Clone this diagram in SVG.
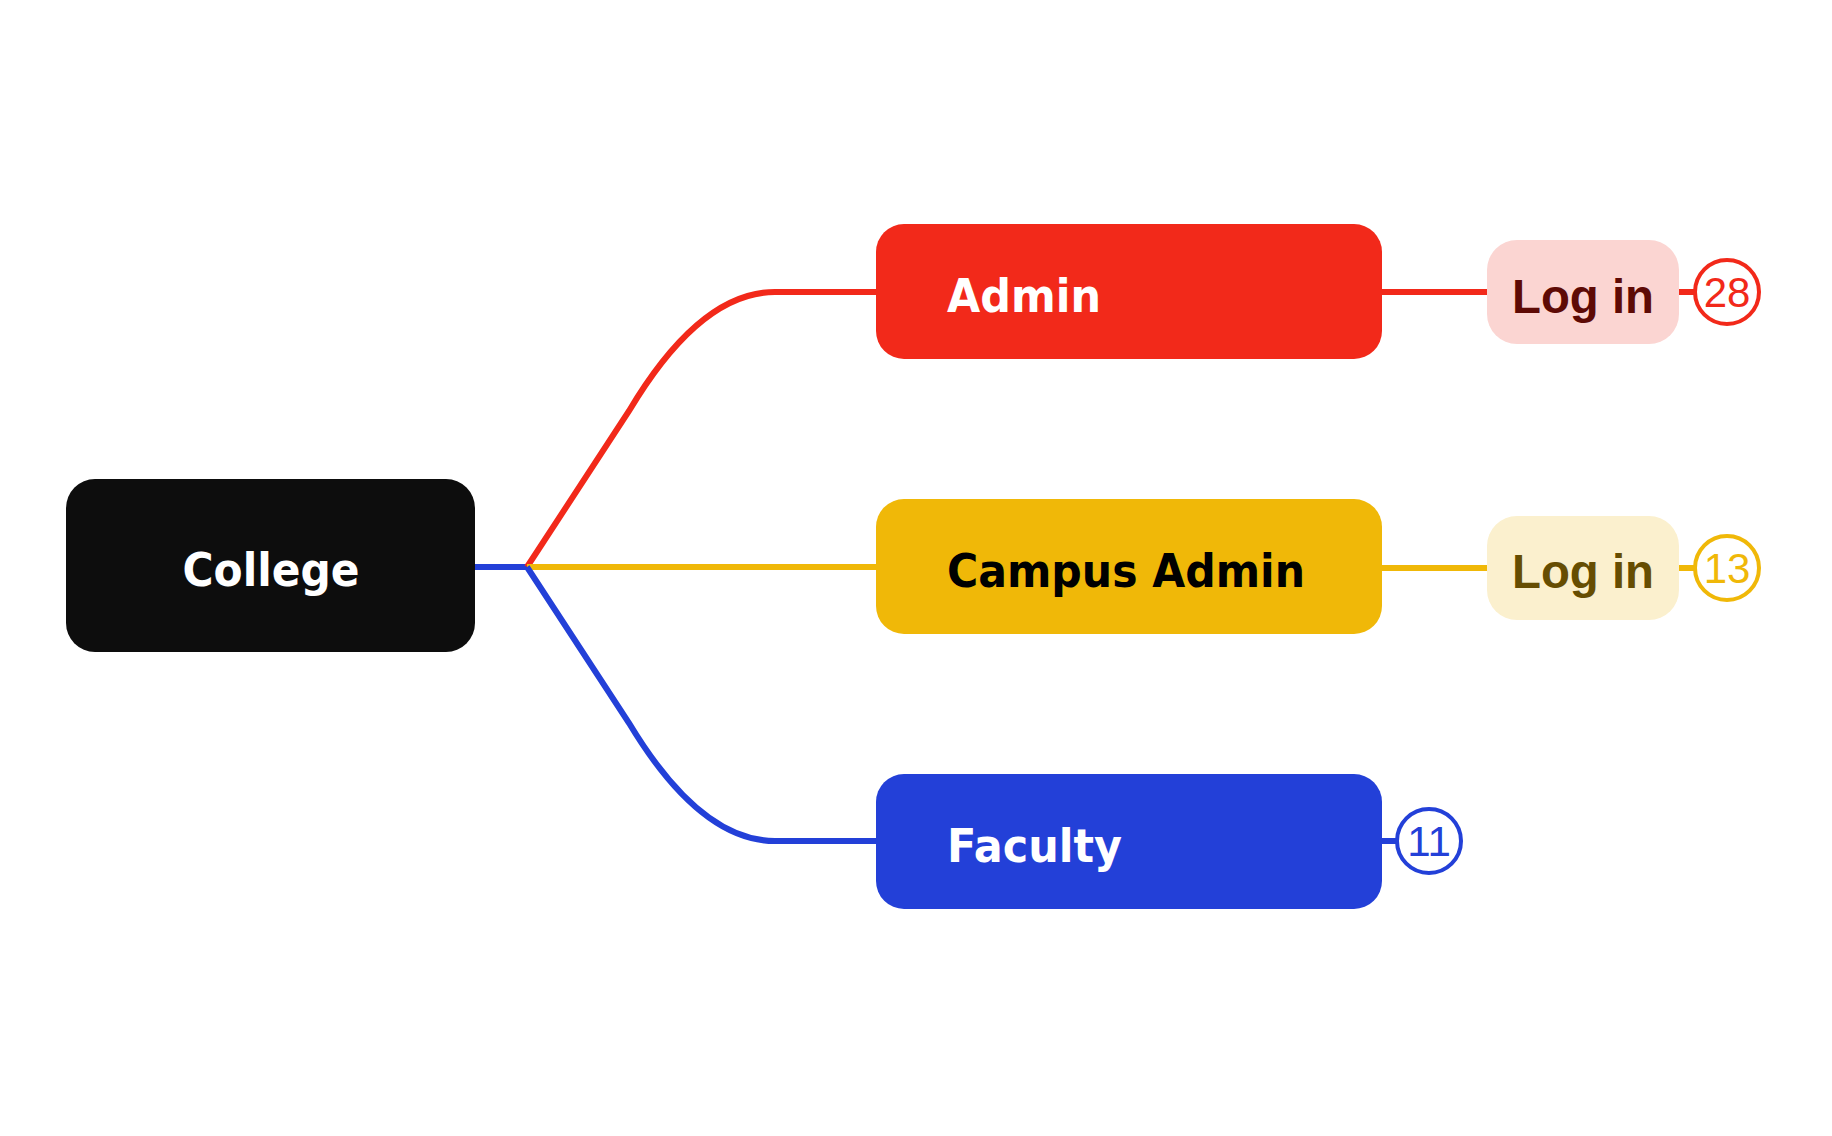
<svg xmlns="http://www.w3.org/2000/svg" width="1832" height="1136" viewBox="0 0 1832 1136">
<style>
.t{font-family:"DejaVu Sans",Verdana,sans-serif;font-weight:bold;font-size:46px}
.l{font-family:"Liberation Sans",Arial,sans-serif;font-weight:bold;font-size:48px}
.n{font-family:"Liberation Sans",Arial,sans-serif;font-size:42px;text-anchor:middle}
.c{fill:#fff;stroke-width:4}
</style>
<rect width="1832" height="1136" fill="#fff"/>
<g id="connectors" fill="none" stroke-width="6">
<path d="M475 567 H527" stroke="#2340D8"/>
<path d="M527 567 L629 411 Q700 292 775 292 H876" stroke="#F2291A"/>
<path d="M527 567 H876" stroke="#F0B808"/>
<path d="M527 567 L629 723 Q700 841 775 841 H876" stroke="#2340D8"/>
<path d="M1382 292 H1490 M1679 292 H1695" stroke="#F2291A"/>
<path d="M1382 568 H1490 M1679 568 H1695" stroke="#F0B808"/>
<path d="M1382 841 H1397" stroke="#2340D8"/>
</g>
<g id="college"><rect x="66" y="479" width="409" height="173" rx="29" fill="#0D0D0D"/><text class="t" x="271" y="586" text-anchor="middle" fill="#fff" textLength="177" lengthAdjust="spacingAndGlyphs">College</text></g>
<g id="admin"><rect x="876" y="224" width="506" height="135" rx="28" fill="#F2291A"/><text class="t" x="947" y="312" fill="#fff" textLength="154" lengthAdjust="spacingAndGlyphs">Admin</text></g>
<g id="campus"><rect x="876" y="499" width="506" height="135" rx="28" fill="#F0B808"/><text class="t" x="947" y="587" fill="#000" textLength="358" lengthAdjust="spacingAndGlyphs">Campus Admin</text></g>
<g id="faculty"><rect x="876" y="774" width="506" height="135" rx="28" fill="#2340D8"/><text class="t" x="947" y="862" fill="#fff" textLength="175" lengthAdjust="spacingAndGlyphs">Faculty</text></g>
<g id="login1"><rect x="1487" y="240" width="192" height="104" rx="30" fill="#FBD5D2"/><text class="l" x="1512" y="313" fill="#5E0A05" textLength="142" lengthAdjust="spacingAndGlyphs">Log in</text></g>
<g id="login2"><rect x="1487" y="516" width="192" height="104" rx="30" fill="#FBF0CE"/><text class="l" x="1512" y="588" fill="#664D02" textLength="142" lengthAdjust="spacingAndGlyphs">Log in</text></g>
<g id="count1"><circle class="c" cx="1727" cy="292" r="32" stroke="#F2291A"/><text class="n" x="1727" y="307" fill="#F2291A">28</text></g>
<g id="count2"><circle class="c" cx="1727" cy="568" r="32" stroke="#F0B808"/><text class="n" x="1727" y="583" fill="#F0B808">13</text></g>
<g id="count3"><circle class="c" cx="1429" cy="841" r="32" stroke="#2340D8"/><text class="n" x="1429" y="856" fill="#2340D8">11</text></g>
</svg>
